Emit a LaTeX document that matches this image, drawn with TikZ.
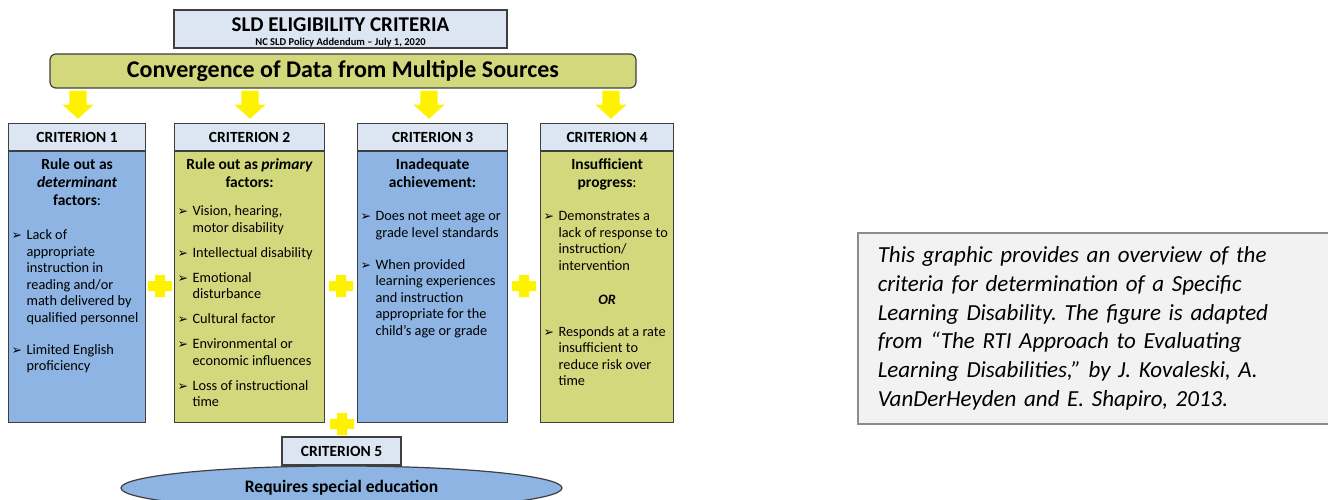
\documentclass[tikz,border=0pt]{standalone}
\usepackage{fontspec}
\setmainfont{Carlito}
\newfontfamily\bulletfont{DejaVu Sans}
\usepackage{xcolor}
\usepackage{tikz}
\usetikzlibrary{shapes.arrows,shapes.geometric}

\definecolor{headblue}{HTML}{DCE6F2}
\definecolor{bodyblue}{HTML}{8DB4E2}
\definecolor{bodyolive}{HTML}{D4D87C}
\definecolor{edgegray}{HTML}{3F3F3F}
\definecolor{notegray}{HTML}{F2F2F2}
\definecolor{noteedge}{HTML}{8C8C8C}

\hfuzz=30pt \hbadness=10000
\frenchspacing

\newcommand{\bodysize}{\fontsize{14.3}{16.5}\selectfont}
\newcommand{\btitle}[1]{{\centering\bfseries\fontsize{15.5}{18}\selectfont #1\par}}
\newcommand{\bitem}[1]{\par{\rightskip=-20pt plus 1fil\hangindent=15pt\hangafter=1\noindent
  \makebox[15pt][l]{\bulletfont\fontsize{12.5}{12}\selectfont ➢}#1\par}}

\begin{document}
\begin{tikzpicture}[x=1pt,y=-1pt]
        % Define styles
        \tikzset{
            titlebox/.style={rectangle, draw=edgegray, line width=1.2pt, fill=headblue, inner sep=0pt},
            critbox/.style={rectangle, draw=edgegray, line width=1.2pt, fill=headblue, inner sep=0pt,
                minimum height=27pt, anchor=north west, font=\bfseries\fontsize{15.5}{18}\selectfont},
            bluebody/.style={rectangle, draw=edgegray, line width=1.2pt, fill=bodyblue,
                inner xsep=3pt, inner ysep=0pt, anchor=north west},
            olivebody/.style={bluebody, fill=bodyolive},
            downarrow/.style={single arrow, fill=yellow, draw=none, shape border rotate=270,
                inner sep=8.5pt, single arrow head extend=7pt, single arrow tip angle=96,
                minimum height=28pt, anchor=tip},
            pics/plussign/.style={code={
                \fill[yellow] (-12,-5) -- (-5,-5) -- (-5,-11) -- (5,-11) -- (5,-5) -- (12,-5)
                    -- (12,5) -- (5,5) -- (5,11) -- (-5,11) -- (-5,5) -- (-12,5) -- cycle;}}
        }
        \useasboundingbox (0,0) rectangle (1328,500);

        % Title and convergence
        \node[titlebox] (title_node) at (340.5,29)
            {\parbox[c][38pt][t]{333pt}{\centering\bfseries
             \vspace*{7.5pt}
             {\fontsize{21}{22}\selectfont SLD ELIGIBILITY CRITERIA\par}
             {\fontsize{10.5}{14.5}\selectfont NC SLD Policy Addendum – July 1, 2020\par}}};
        \node[rectangle, rounded corners=6pt, draw=edgegray, line width=1.2pt, fill=bodyolive,
            minimum width=586pt, minimum height=34pt, font=\bfseries\fontsize{24}{26}\selectfont]
            (convergence_node) at (343,71) {Convergence of Data from Multiple Sources};

        % Arrows
        \node[downarrow] (arrow_node_1) at (78,119) {};
        \node[downarrow] (arrow_node_2) at (250,119) {};
        \node[downarrow] (arrow_node_3) at (429,119) {};
        \node[downarrow] (arrow_node_4) at (611,119) {};

        % Criteria
        \node[critbox, minimum width=137pt] (crit_node_1) at (8,123) {CRITERION 1};
        \node[critbox, minimum width=150pt] (crit_node_2) at (174,123) {CRITERION 2};
        \node[critbox, minimum width=150pt] (crit_node_3) at (357,123) {CRITERION 3};
        \node[critbox, minimum width=133pt] (crit_node_4) at (540,123) {CRITERION 4};

        \node[bluebody] (body_node_1) at (crit_node_1.south west) {\parbox[t][271pt][t]{131pt}{\bodysize
            \vspace*{7pt}
            \btitle{Rule out as\\ \textit{determinant}\\ factors\textmd{:}}
            \vspace{17.5pt}
            \bitem{Lack of\newline appropriate\newline instruction in\newline reading and/or\newline math delivered by\newline qualified personnel}
            \vspace{15.5pt}
            \bitem{Limited English\newline proficiency}}};
        \node[olivebody] (body_node_2) at (crit_node_2.south west) {\parbox[t][271pt][t]{144pt}{\bodysize
            \vspace*{7pt}
            \btitle{Rule out as \textit{primary}\\ factors:}
            \vspace{11.5pt}
            \bitem{Vision, hearing,\newline motor disability}
            \vspace{8.5pt}
            \bitem{Intellectual disability}
            \vspace{8.5pt}
            \bitem{Emotional\newline disturbance}
            \vspace{8.5pt}
            \bitem{Cultural factor}
            \vspace{8.5pt}
            \bitem{Environmental or\newline economic influences}
            \vspace{8.5pt}
            \bitem{Loss of instructional\newline time}}};
        \node[bluebody] (body_node_3) at (crit_node_3.south west) {\parbox[t][271pt][t]{144pt}{\bodysize
            \vspace*{7pt}
            \btitle{Inadequate\\ achievement:}
            \vspace{16.5pt}
            \bitem{Does not meet age or\newline grade level standards}
            \vspace{15.5pt}
            \bitem{When provided\newline learning experiences\newline and instruction\newline appropriate for the\newline child’s age or grade}}};
        \node[olivebody] (body_node_4) at (crit_node_4.south west) {\parbox[t][271pt][t]{127pt}{\bodysize
            \vspace*{7pt}
            \btitle{Insufficient\\ progress\textmd{:}}
            \vspace{16.5pt}
            \bitem{Demonstrates a\newline lack of response to\newline instruction/\newline intervention}
            \vspace{17.5pt}
            {\centering\bfseries\itshape OR\par}
            \vspace{15.5pt}
            \bitem{Responds at a rate\newline insufficient to\newline reduce risk over\newline time}}};

        % Plus signs
        \pic at (160,286) {plussign};
        \pic at (341,286) {plussign};
        \pic at (524,286) {plussign};
        \pic at (342,424) {plussign};

        % Criterion 5
        \node[critbox, anchor=center, minimum width=119pt, minimum height=28pt] (crit_node_5) at (341.5,451) {CRITERION 5};
        \node[ellipse, draw=edgegray, line width=1.2pt, fill=bodyblue, inner sep=0pt,
            minimum width=441pt, minimum height=44pt, font=\bfseries\fontsize{17.5}{19}\selectfont]
            (result_node) at (341.5,488) {Requires special education};

        % Note
        \node[rectangle, draw=noteedge, line width=1.5pt, fill=notegray, anchor=north west,
            minimum height=191pt, text width=440pt, inner xsep=20pt, align=left,
            font=\itshape\fontsize{23}{28.7}\selectfont] (note_node) at (857,232)
            {This graphic provides an overview of the\\
             criteria for determination of a Specific\\
             Learning Disability. The figure is adapted\\
             from “The RTI Approach to Evaluating\\
             Learning Disabilities,” by J. Kovaleski, A.\\
             VanDerHeyden and E. Shapiro, 2013.};
    \end{tikzpicture}
\end{document}
